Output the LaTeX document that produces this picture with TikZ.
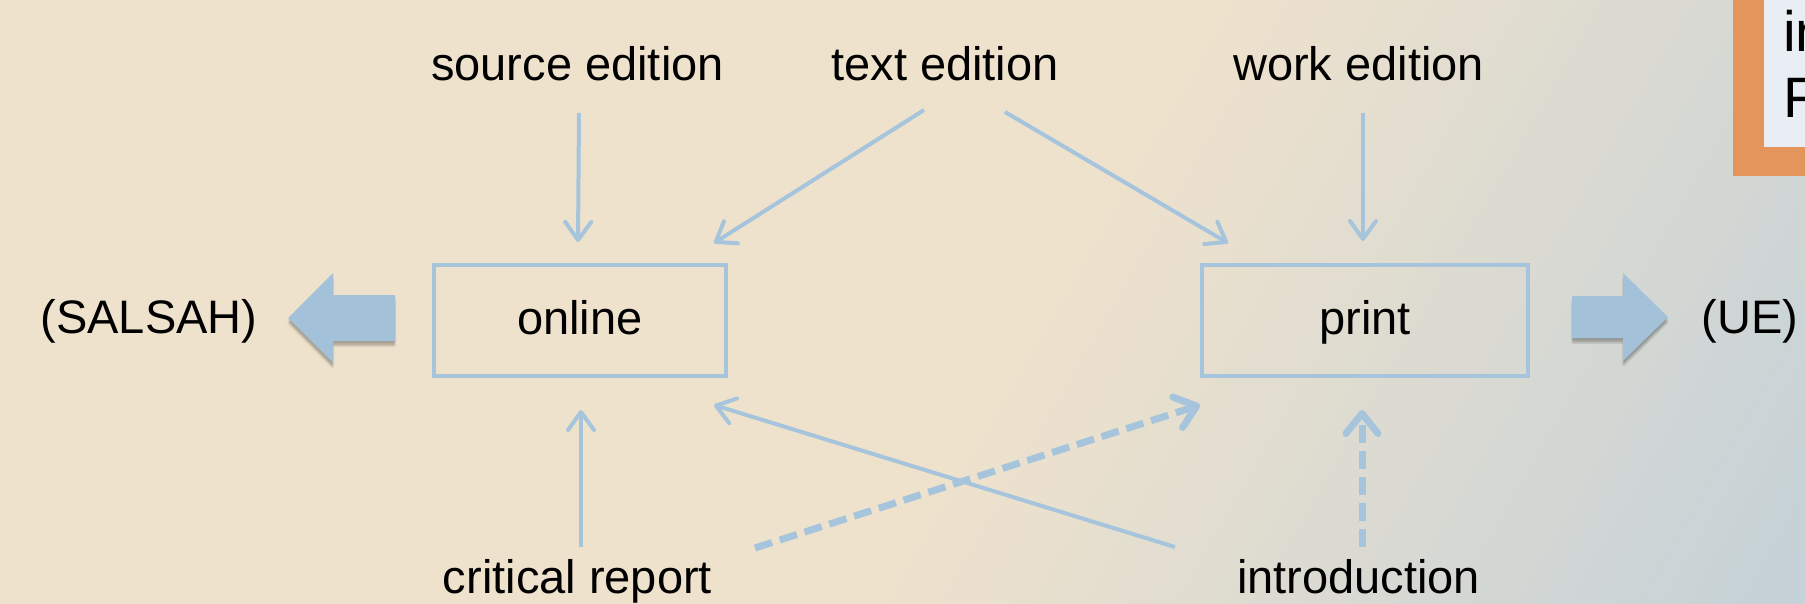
\documentclass[tikz,border=0pt]{standalone}
\usepackage{fontspec}
\setmainfont{Liberation Sans}
\usetikzlibrary{arrows.meta}
\definecolor{bgA}{RGB}{239,226,204}
\definecolor{bgB}{RGB}{195,209,216}
\definecolor{lblue}{RGB}{166,197,221}
\definecolor{abl}{RGB}{163,194,218}
\definecolor{orng}{RGB}{228,149,92}
\definecolor{pale}{RGB}{233,238,245}
\begin{document}
\begin{tikzpicture}[x=1pt,y=-1pt,
  lbl/.style={font=\fontsize{47}{56}\selectfont, text=black, inner sep=0pt},
  bigl/.style={font=\fontsize{57}{66}\selectfont, text=black, inner sep=0pt},
  box/.style={draw=lblue, line width=4pt, minimum height=111pt, text height=36pt, text depth=9pt, inner sep=0pt, font=\fontsize{47}{56}\selectfont},
  conn/.style={draw=lblue, line width=4pt, -{Straight Barb[length=18pt,width=26pt,round]}},
  dconn/.style={draw=lblue, line width=7pt, dash pattern=on 18pt off 8pt, -{Straight Barb[length=20pt,width=32pt,round]}},
  bigarrow/.style={fill=abl},
  shadowc/.style={fill=black, opacity=0.045}
]
\useasboundingbox (0,0) rectangle (1805,604);
\clip (0,0) rectangle (1805,604);
% background gradient
\fill[bgA] (-10,-10) rectangle (1815,614);
\foreach \i in {0,...,39}{
  \pgfmathsetmacro{\a}{1050+\i*21}
  \pgfmathsetmacro{\b}{\a+22}
  \pgfmathsetmacro{\pct}{(\i+0.5)/40*100}
  \colorlet{bandc}{bgB!\pct!bgA}
  \fill[bandc] ({(\a+25)/0.866},-50) -- ({(\b+25)/0.866},-50) -- ({(\b-330)/0.866},660) -- ({(\a-330)/0.866},660) -- cycle;
}
% top-right box (cut off)
\fill[orng] (1733,-10) rectangle (1815,176);
\fill[pale] (1764,-10) rectangle (1815,147);
\node[bigl, anchor=base west] (tr1) at (1783,52) {in};
\node[bigl, anchor=base west] (tr2) at (1783,118) {F};

% boxes
\node[box, minimum width=292pt] (online) at (580,320.5) {online};
\node[box, minimum width=326pt] (print) at (1365,320.5) {print};

% labels
\node[lbl, anchor=base] (se) at (577.5,81) {source edition};
\node[lbl, anchor=base] (te) at (945,81) {text edition};
\node[lbl, anchor=base] (we) at (1358.5,81) {work edition};
\node[lbl, anchor=base] (cr) at (577.5,593) {critical report};
\node[lbl, anchor=base] (intro) at (1358.5,593) {introduction};
\node[lbl, anchor=base] (salsah) at (149,333) {(SALSAH)};
\node[lbl, anchor=base] (ue) at (1750,333) {(UE)};

% big arrows with soft shadows
\foreach \dx/\dy in {0/1,0/2,0/3,-1/4,1/4,0/5,-1/6,1/6}{
  \fill[shadowc, shift={(\dx,\dy)}] (288,318) -- (333,273) -- (333,295) -- (395,295) -- (395,341) -- (333,341) -- (333,363) -- cycle;
  \fill[shadowc, shift={(\dx,\dy)}] (1668,317) -- (1623,273) -- (1623,296) -- (1572,296) -- (1572,338) -- (1623,338) -- (1623,361) -- cycle;
}
\fill[bigarrow] (288,318) -- (333,273) -- (333,295) -- (395,295) -- (395,341) -- (333,341) -- (333,363) -- cycle;
\fill[bigarrow] (1668,317) -- (1623,273) -- (1623,296) -- (1572,296) -- (1572,338) -- (1623,338) -- (1623,361) -- cycle;

% connector end points
\coordinate (se-o) at (579,113);
\coordinate (on-se) at (578,242);
\coordinate (te-o) at (924,110);
\coordinate (on-te) at (714,243);
\coordinate (te-p) at (1005,112);
\coordinate (pr-te) at (1228,243);
\coordinate (we-p) at (1363,113);
\coordinate (pr-we) at (1363,241);
\coordinate (cr-o) at (581,547);
\coordinate (on-cr) at (581,410);
\coordinate (in-o) at (1175,547);
\coordinate (on-in) at (714,405);
\coordinate (cr-p) at (755,548);
\coordinate (pr-cr) at (1200,405);
\coordinate (in-p) at (1362,547);
\coordinate (pr-in) at (1362,410);

\draw[conn] (se-o) -- (on-se);
\draw[conn] (te-o) -- (on-te);
\draw[conn] (te-p) -- (pr-te);
\draw[conn] (we-p) -- (pr-we);
\draw[conn] (cr-o) -- (on-cr);
\draw[conn] (in-o) -- (on-in);
\draw[dconn] (cr-p) -- (pr-cr);
\draw[dconn] (in-p) -- (pr-in);
\end{tikzpicture}
\end{document}
